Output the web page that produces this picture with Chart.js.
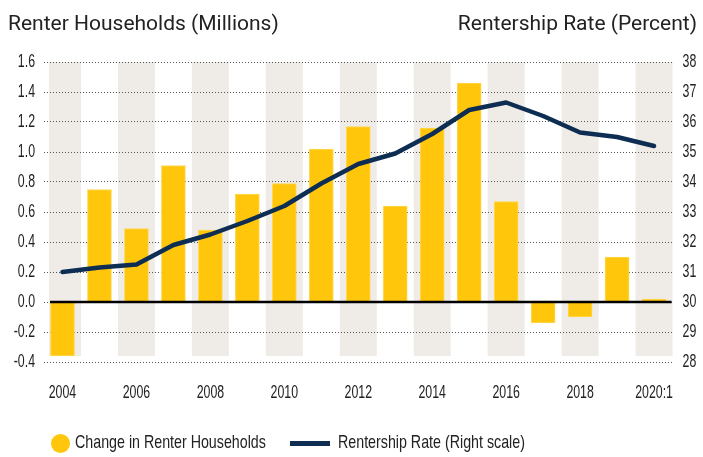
<!DOCTYPE html>
<html>
<head>
<meta charset="utf-8">
<script src="https://cdn.jsdelivr.net/npm/chart.js@4"></script>
<style>
  html, body { margin: 0; padding: 0; background: #fff; }
  #wrap { position: relative; width: 703px; height: 457px; overflow: hidden; }
  #c { position: absolute; left: 0; top: 0; }
  .ttl { position: absolute; top: 13px; font-family: Roboto, "Noto Sans", sans-serif; font-size: 21px; line-height: 21px; color: #222; white-space: nowrap; }
  .leg { position: absolute; top: 432px; height: 20px; font-family: "Liberation Sans", Arial, sans-serif; font-size: 19px; line-height: 20px; color: #222; white-space: nowrap; transform: scaleX(0.75); transform-origin: 0 50%; }
  .dot { position: absolute; left: 51px; top: 434px; width: 19px; height: 19px; border-radius: 50%; background: #FFC60B; }
  .bar { position: absolute; left: 290px; top: 441px; width: 40px; height: 5px; background: #0E2D52; }
</style>
</head>
<body>
<div id="wrap">
  <canvas id="c" width="703" height="457"></canvas>
  <div class="ttl" style="left:8px;">Renter Households (Millions)</div>
  <div class="ttl" style="right:6px;">Rentership Rate (Percent)</div>
  <div class="dot"></div>
  <div class="leg" style="left:75px;">Change in Renter Households</div>
  <div class="bar"></div>
  <div class="leg" style="left:338px;">Rentership Rate (Right scale)</div>
</div>
<script>
const categories = ['2004','2005','2006','2007','2008','2009','2010','2011','2012','2013','2014','2015','2016','2017','2018','2019','2020:1'];
const renterChange = [-0.36, 0.75, 0.49, 0.91, 0.48, 0.72, 0.79, 1.02, 1.17, 0.64, 1.16, 1.46, 0.67, -0.14, -0.10, 0.30, 0.02];
const rentershipRate = [31.0, 31.15, 31.25, 31.9, 32.25, 32.7, 33.2, 33.95, 34.6, 34.95, 35.6, 36.4, 36.65, 36.2, 35.65, 35.5, 35.2];
const leftTicks = [-0.4, -0.2, 0.0, 0.2, 0.4, 0.6, 0.8, 1.0, 1.2, 1.4, 1.6];
const rightTicks = [28, 29, 30, 31, 32, 33, 34, 35, 36, 37, 38];

const tickFont = { family: '"Liberation Sans", Arial, sans-serif', size: 19 };
const CONDENSE = 0.65;

// Draw axis tick labels horizontally condensed (mimics a condensed typeface)
const condensePlugin = {
  id: 'condense',
  beforeDraw(chart) {
    const ctx = chart.ctx;
    const orig = CanvasRenderingContext2D.prototype.fillText;
    ctx.fillText = function (t, x, y, mw) {
      this.save();
      this.translate(x, y);
      this.scale(CONDENSE, 1);
      orig.call(this, t, 0, 0);
      this.restore();
    };
  },
  beforeDatasetsDraw(chart) {
    delete chart.ctx.fillText;
  }
};

const bandPlugin = {
  id: 'bands',
  beforeDraw(chart) {
    const { ctx, chartArea } = chart;
    const x = chart.scales.x;
    const step = x.getPixelForValue(1) - x.getPixelForValue(0);
    ctx.save();
    ctx.fillStyle = '#EFEBE7';
    for (let i = 0; i < categories.length; i += 2) {
      const cx = x.getPixelForValue(i);
      const l = Math.max(cx - step / 2, chartArea.left + 5);
      const r = Math.min(cx + step / 2, chartArea.right);
      ctx.fillRect(l, chartArea.top, r - l, chartArea.bottom - 6 - chartArea.top);
    }
    ctx.restore();
  }
};

const zeroPlugin = {
  id: 'zero',
  afterDatasetDraw(chart, args) {
    if (args.index !== 0) return;
    const { ctx, chartArea } = chart;
    const y = chart.scales.y.getPixelForValue(0);
    ctx.save();
    ctx.strokeStyle = '#000';
    ctx.lineWidth = 2.7;
    ctx.beginPath();
    ctx.moveTo(chartArea.left + 6, y);
    ctx.lineTo(chartArea.right - 1, y);
    ctx.stroke();
    ctx.restore();
  }
};

new Chart(document.getElementById('c'), {
  data: {
    labels: categories,
    datasets: [
      {
        type: 'bar',
        label: 'Change in Renter Households',
        data: renterChange,
        yAxisID: 'y',
        backgroundColor: '#FFC60B',
        borderColor: '#FFD850',
        borderWidth: 1,
        barThickness: 24,
        order: 1
      },
      {
        type: 'line',
        label: 'Rentership Rate (Right scale)',
        data: rentershipRate,
        yAxisID: 'y1',
        borderColor: '#0E2D52',
        borderWidth: 4.5,
        pointRadius: 0,
        tension: 0,
        borderCapStyle: 'round',
        borderJoinStyle: 'round',
        order: 0
      }
    ]
  },
  options: {
    responsive: false,
    devicePixelRatio: 1,
    animation: false,
    layout: { padding: { top: 62, bottom: 0, left: 0, right: 0 } },
    plugins: { legend: { display: false }, tooltip: { enabled: false }, title: { display: false } },
    scales: {
      x: {
        type: 'category',
        offset: true,
        grid: { display: false, drawTicks: false },
        border: { display: false },
        ticks: {
          autoSkip: false,
          maxRotation: 0,
          padding: 19,
          color: '#222',
          font: tickFont,
          callback: (v, i) => (i % 2 === 0 ? categories[i] : '')
        },
        afterFit: (s) => { s.height = 95; }
      },
      y: {
        position: 'left',
        min: -0.4,
        max: 1.6,
        afterBuildTicks: (s) => { s.ticks = leftTicks.map(v => ({ value: v })); },
        grid: {
          color: '#555',
          lineWidth: 1,
          drawTicks: false
        },
        border: { display: false, dash: [1, 2] },
        ticks: {
          padding: 9,
          color: '#222',
          font: tickFont,
          callback: (v) => Number(v).toFixed(1)
        },
        afterFit: (s) => { s.width = 44; }
      },
      y1: {
        position: 'right',
        min: 28,
        max: 38,
        afterBuildTicks: (s) => { s.ticks = rightTicks.map(v => ({ value: v })); },
        grid: { display: false, drawTicks: false },
        border: { display: false },
        ticks: {
          padding: 10,
          color: '#222',
          font: tickFont,
          callback: (v) => String(v)
        },
        afterFit: (s) => { s.width = 30; }
      }
    }
  },
  plugins: [bandPlugin, condensePlugin, zeroPlugin]
});
</script>
</body>
</html>
